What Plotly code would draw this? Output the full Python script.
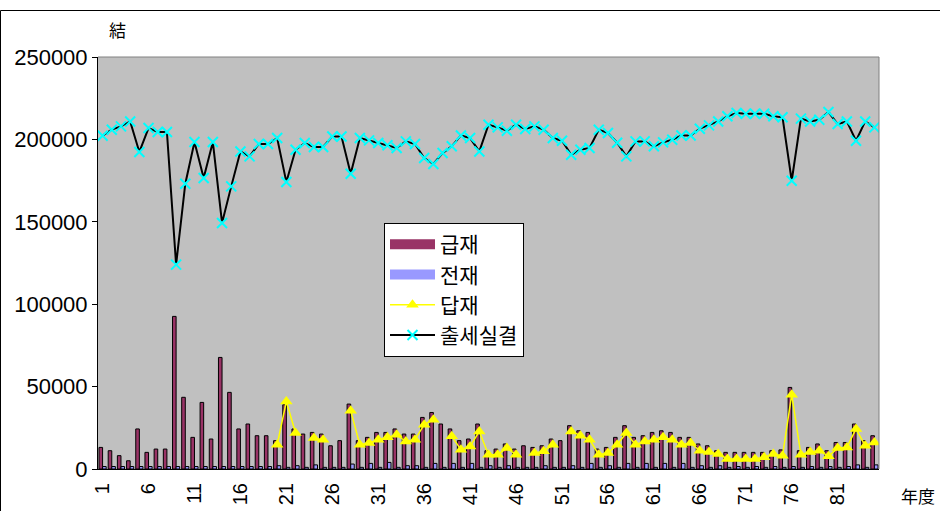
import plotly.graph_objects as go

years = list(range(1, 86))
tick_vals = list(range(1, 86, 5))
tick_text = [str(v) for v in tick_vals]

gupjae = [13100, 11100, 8100, 5000, 24300, 10100, 12100, 12100, 92600, 43500,
          19200, 40400, 18200, 67700, 46500, 24300, 27300, 20200, 20200, 17200,
          39000, 24300, 21200, 22200, 21200, 14100, 17200, 39400, 17200, 19200,
          22200, 22200, 24300, 21200, 21200, 31300, 34300, 27300, 24300, 17200,
          18200, 27300, 11100, 12100, 15200, 12100, 14100, 13100, 14100, 18200,
          17200, 26300, 23200, 22200, 12100, 13100, 19200, 26300, 19200, 20200,
          22200, 23200, 22200, 19200, 19200, 15200, 14100, 11100, 10100, 10100,
          10100, 10100, 10100, 11100, 11600, 49500, 11100, 13100, 15200, 11100,
          16100, 16100, 27300, 17200, 20200]

jeonjae = [1500, 1500, 1500, 1500, 1500, 1500, 1500, 1500, 1500, 1500,
           1500, 1500, 1500, 1500, 1500, 1500, 1500, 1500, 1500, 2000,
           1000, 2000, 1000, 2500, 1000, 1000, 1000, 3000, 1000, 3400,
           1000, 4000, 1000, 2000, 2000, 1000, 3400, 1000, 3400, 1000,
           3400, 1000, 2000, 1000, 2000, 1000, 1000, 1000, 2000, 1000,
           1000, 2000, 1000, 3400, 1000, 2000, 1000, 3400, 1000, 3400,
           1000, 3400, 1000, 3400, 1000, 2000, 1000, 2000, 1000, 1500,
           1000, 1500, 1000, 1500, 1000, 1500, 1000, 1500, 1000, 1500,
           1000, 1500, 2500, 1000, 2500]

dapjae = [None] * 19 + [
    14700, 41000, 21800, None, 18800, 17800, None, None, 35400, 14700,
    15800, 17800, 19200, 20800, 16700, 17800, 26900, 29900, None, 19800,
    11700, 13700, 22800, 8700, 8700, 12700, 8700, None, 9700, 10700,
    14700, None, 22800, 20200, 17800, 8700, 9700, 14700, 21800, 14700,
    16700, 17800, 19200, 17800, 14700, 15800, 11100, 10300, 9100, 6100,
    6100, 6100, 6100, 7100, 9100, 8100, 45100, 8700, 10300, 11100,
    7700, 12700, 13100, 24300, 14100, 16100]

chulse = [202250, 205900, 207900, 210900, 192400, 206900, 204500, 204500, 124000, 173100,
          198400, 176600, 198400, 149300, 171500, 192700, 189700, 197200, 197200, 200800,
          174100, 193700, 197800, 195400, 195400, 201800, 201800, 179200, 200800, 199400,
          197800, 196400, 194800, 198800, 197200, 188700, 185100, 191700, 195800, 202400,
          200800, 192700, 208900, 207300, 205300, 208900, 206300, 207900, 205900, 200800,
          199200, 190700, 193700, 194800, 205900, 203900, 198000, 189700, 198800, 198800,
          195800, 198200, 199800, 202400, 202400, 206500, 208500, 210900, 214000, 216000,
          215600, 215600, 215600, 214000, 213400, 174900, 212600, 210900, 211900, 216600,
          209300, 210900, 199200, 210900, 207300]

FONT = "Liberation Sans, Arial, Noto Sans CJK KR, sans-serif"
C_GUP = "#993366"
C_JEON = "#9999FF"

fig = go.Figure()
fig.add_trace(go.Bar(x=years, y=gupjae, name="급재", showlegend=False,
                     marker=dict(color=C_GUP, line=dict(color="#000000", width=1))))
fig.add_trace(go.Bar(x=years, y=jeonjae, name="전재", showlegend=False,
                     marker=dict(color=C_JEON, line=dict(color="#000000", width=1))))
# legend stand-ins with wide rectangular swatches for the bar series
fig.add_trace(go.Scatter(x=[None], y=[None], name="급재", mode="lines",
                         line=dict(color=C_GUP, width=12), legendrank=1))
fig.add_trace(go.Scatter(x=[None], y=[None], name="전재", mode="lines",
                         line=dict(color=C_JEON, width=12), legendrank=2))
fig.add_trace(go.Scatter(x=years, y=dapjae, name="답재", mode="lines+markers",
                         line=dict(color="#FFFF00", width=1.5),
                         marker=dict(symbol="triangle-up", size=11, color="#FFFF00"),
                         connectgaps=False, legendrank=3))
fig.add_trace(go.Scatter(x=years, y=chulse, name="출세실결", mode="lines+markers",
                         line=dict(color="#000000", width=2),
                         marker=dict(symbol="x-thin", size=10, color="#00FFFF",
                                     line=dict(color="#00FFFF", width=2)),
                         legendrank=4))

L, R, T, B = 98, 879, 57, 469
W = R - L
H = B - T

def px(x):
    return (x - L) / W

def py(y):
    return (B - y) / H

fig.update_layout(
    width=940, height=511,
    margin=dict(l=L, r=940 - R, t=T, b=511 - B, pad=0, autoexpand=False),
    paper_bgcolor="#FFFFFF",
    plot_bgcolor="#C0C0C0",
    barmode="group", bargap=0.22, bargroupgap=0.0,
    font=dict(family=FONT, size=18, color="#000000"),
    showlegend=True,
    legend=dict(x=px(384), y=py(223), xanchor="left", yanchor="top",
                bgcolor="#FFFFFF", bordercolor="#000000", borderwidth=1,
                font=dict(family="Noto Sans CJK KR, sans-serif", size=21, color="#000000"),
                itemwidth=45, traceorder="normal"),
    xaxis=dict(range=[0.5, 85.5], tickmode="array", tickvals=tick_vals, ticktext=tick_text,
               tickangle=-90, showgrid=False, zeroline=False, automargin=False,
               showline=True, linecolor="#000000", linewidth=1,
               ticks="outside", ticklen=5, tickcolor="rgba(0,0,0,0)",
               tickfont=dict(family=FONT, size=20, color="#000000")),
    yaxis=dict(range=[0, 250000], tickmode="array", automargin=False,
               tickvals=[0, 50000, 100000, 150000, 200000, 250000],
               ticktext=["0", "50000", "100000", "150000", "200000", "250000"],
               showgrid=False, zeroline=False, showline=True, linecolor="#000000",
               linewidth=1, ticks="outside", ticklen=5, tickcolor="#000000",
               tickfont=dict(family=FONT, size=22, color="#000000")),
    shapes=[
        dict(type="line", xref="paper", yref="paper", x0=0, x1=1, y0=1, y1=1,
             line=dict(color="#808080", width=1)),
        dict(type="line", xref="paper", yref="paper", x0=1, x1=1, y0=0, y1=1,
             line=dict(color="#808080", width=1)),
        dict(type="rect", xref="paper", yref="paper", x0=px(0.5), x1=px(960),
             y0=py(530), y1=py(10.5), line=dict(color="#000000", width=1),
             fillcolor="rgba(0,0,0,0)", layer="below"),
    ],
    annotations=[
        dict(text="結", xref="paper", yref="paper", x=px(117), y=py(30),
             showarrow=False, xanchor="center", yanchor="middle",
             font=dict(family="Noto Sans CJK JP, sans-serif", size=17, color="#000000")),
        dict(text="年度", xref="paper", yref="paper", x=px(918), y=py(495),
             showarrow=False, xanchor="center", yanchor="middle",
             font=dict(family="Noto Sans CJK JP, sans-serif", size=17, color="#000000")),
    ],
)

fig.write_html("out.html", config={"displayModeBar": False},
               post_script="document.body.style.margin='0';document.body.style.overflow='hidden';")
